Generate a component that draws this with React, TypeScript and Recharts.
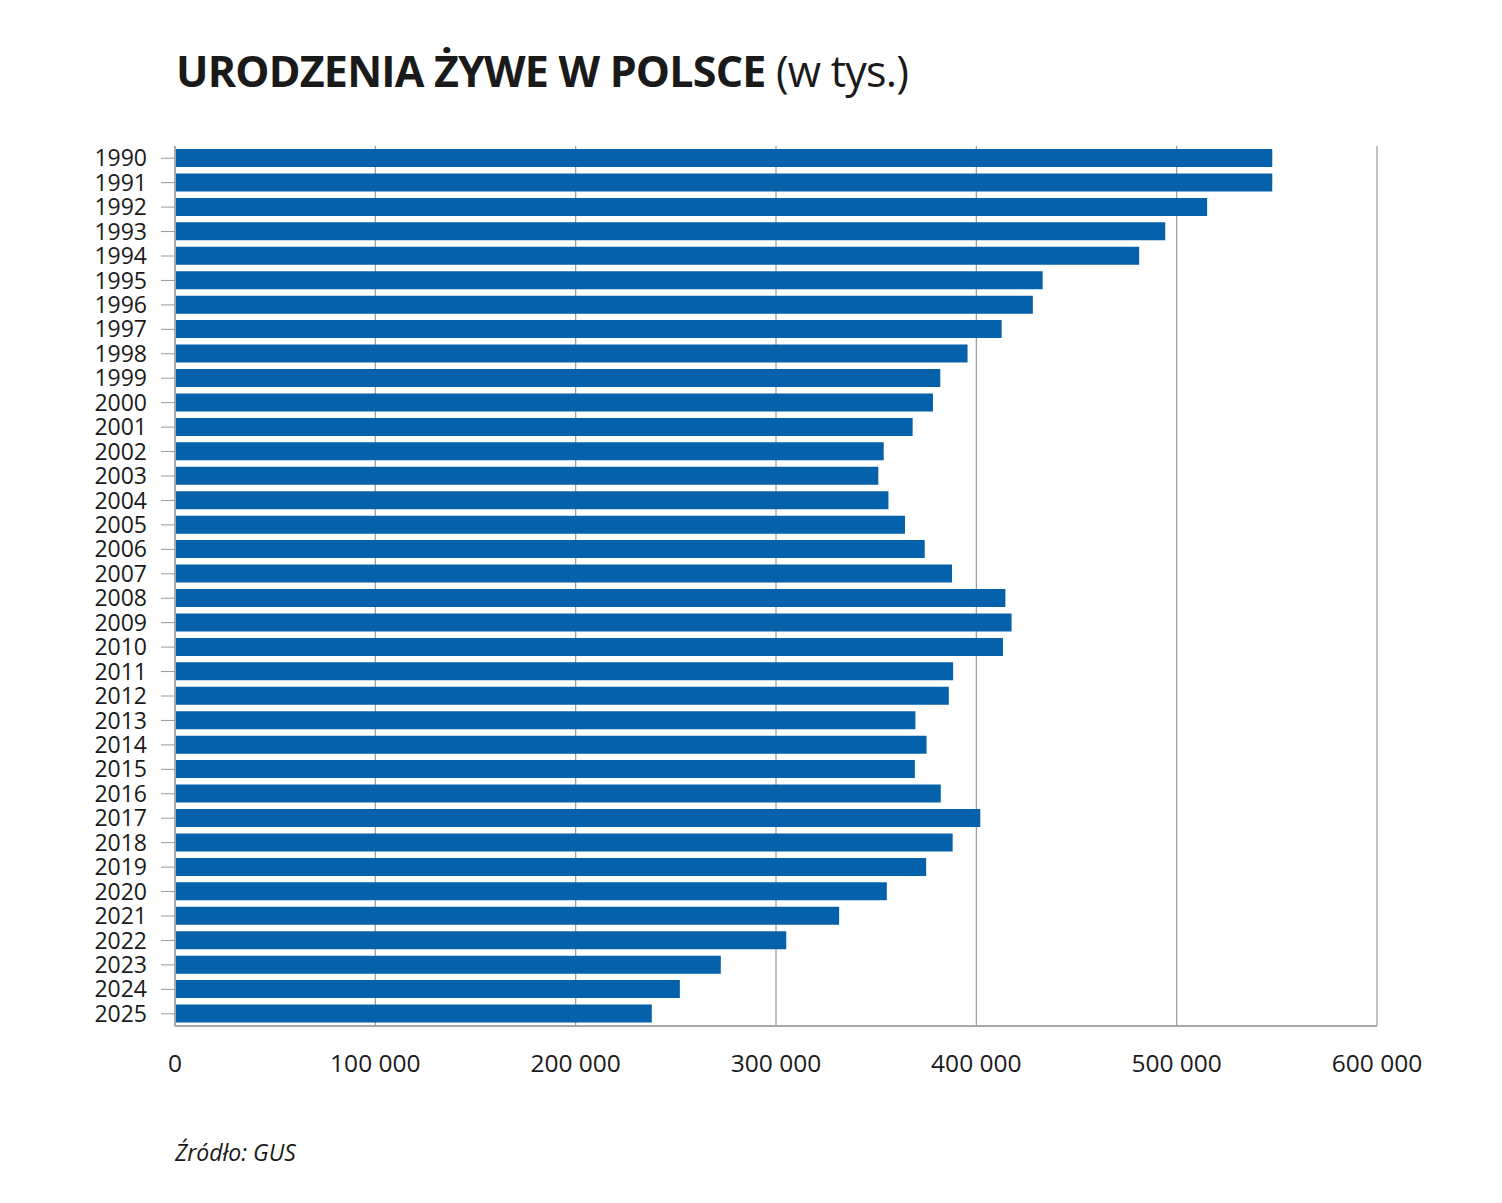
import { Bar, BarChart, CartesianGrid, XAxis, YAxis } from "recharts";

const years = [
  "1990", "1991", "1992", "1993", "1994", "1995", "1996", "1997", "1998", "1999",
  "2000", "2001", "2002", "2003", "2004", "2005", "2006", "2007", "2008", "2009",
  "2010", "2011", "2012", "2013", "2014", "2015", "2016", "2017", "2018", "2019",
  "2020", "2021", "2022", "2023", "2024", "2025",
];

const births = [
  547720, 547719, 515207, 494310, 481285, 433109, 428203, 412635, 395619, 382002,
  378348, 368205, 353765, 351072, 356131, 364383, 374244, 387873, 414499, 417589,
  413300, 388416, 386257, 369576, 375160, 369308, 382257, 401982, 388178, 374954,
  355309, 331511, 305132, 272451, 252000, 238000,
];

const xTicks = [0, 100000, 200000, 300000, 400000, 500000, 600000];

const data = years.map((year, i) => ({ year, value: births[i] }));

const font = "'Open Sans', sans-serif";
const fmt = (v: number) => (v === 0 ? "0" : v.toLocaleString("en-US").replace(/,/g, " "));

export default function App() {
  return (
    <div
      style={{
        position: "absolute",
        left: 0,
        top: 0,
        width: 1502,
        height: 1203,
        background: "#fff",
        fontFamily: font,
        color: "#1a1a1a",
      }}
    >
      <div
        style={{
          position: "absolute",
          left: 176,
          top: 41,
          fontSize: 43,
          whiteSpace: "nowrap",
          letterSpacing: -0.8,
        }}
      >
        <span style={{ fontWeight: 700 }}>URODZENIA ŻYWE W POLSCE</span>{" "}
        <span style={{ fontWeight: 400 }}>(w tys.)</span>
      </div>
      <BarChart
        width={1502}
        height={1203}
        data={data}
        layout="vertical"
        margin={{ top: 146, right: 125, bottom: 127, left: 95 }}
        barCategoryGap={3}
      >
        <CartesianGrid horizontal={false} stroke="#9a9a9a" strokeWidth={1.2} />
        <XAxis
          type="number"
          domain={[0, 600000]}
          ticks={xTicks}
          tickFormatter={fmt}
          tickLine={false}
          tickMargin={23}
          height={50}
          axisLine={{ stroke: "#a8a8a8", strokeWidth: 2 }}
          tick={{ fill: "#1a1a1a", fontSize: 24.5, fontFamily: font }}
          interval={0}
        />
        <YAxis
          type="category"
          dataKey="year"
          width={80}
          tickSize={14}
          tickMargin={14}
          interval={0}
          axisLine={{ stroke: "#a8a8a8", strokeWidth: 2 }}
          tickLine={{ stroke: "#9a9a9a" }}
          tick={{ fill: "#1a1a1a", fontSize: 23, fontFamily: font }}
        />
        <Bar dataKey="value" fill="#0561aa" isAnimationActive={false} />
      </BarChart>
      <div
        style={{
          position: "absolute",
          left: 175,
          top: 1136,
          fontSize: 23,
          fontStyle: "italic",
          whiteSpace: "nowrap",
        }}
      >
        Źródło: GUS
      </div>
    </div>
  );
}
